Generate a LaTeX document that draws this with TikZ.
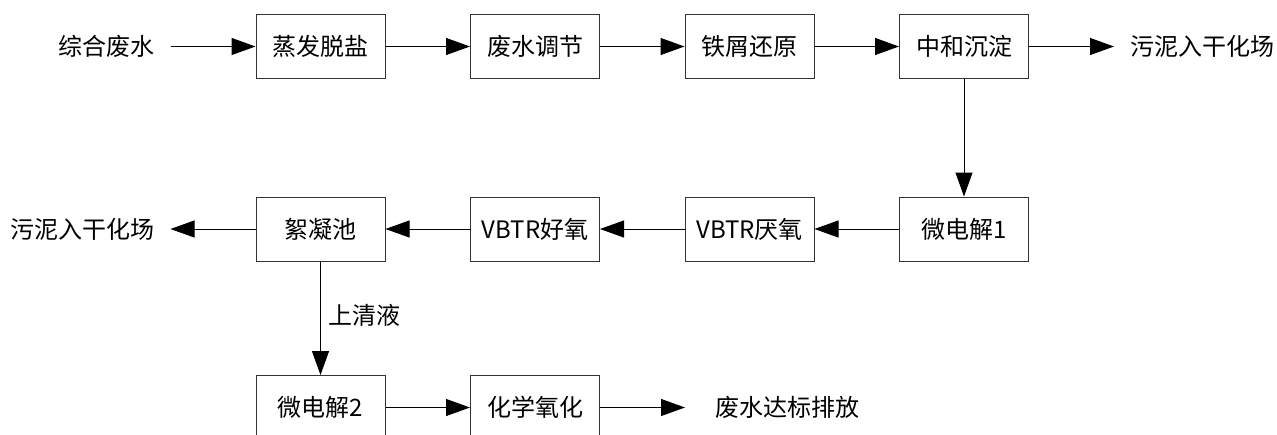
\documentclass[tikz,border=0pt]{standalone}
\usepackage{fontspec}
\setmainfont{Noto Sans CJK SC}
\usetikzlibrary{positioning,arrows.meta}
\tikzset{%
  every stage/.style={
    rectangle,
    draw=black!80,
    minimum width=129pt,
    minimum height=64pt
  },
  flow label/.style={
    inner xsep=16pt
  },
}

\begin{document}
\begin{tikzpicture}[x=1pt, y=-1pt, line width=1pt,
  >={Triangle[length=24pt,width=17pt]},
  font=\fontsize{24}{28}\selectfont]

\useasboundingbox (0,0) rectangle (1277,434);

\foreach \t [count=\i] in {蒸发脱盐,废水调节,铁屑还原,中和沉淀}
  \node [every stage] (top-\i) at (106+214.5*\i, 46.5) {\t};

\foreach \t [count=\i] in {絮凝池,VBTR好氧,VBTR厌氧,微电解1}
  \node [every stage] (mid-\i) at (106+214.5*\i, 229) {\t};

\foreach \t [count=\i] in {微电解2,化学氧化}
  \node [every stage] (low-\i) at (106+214.5*\i, 407.5) {\t};

\node [flow label, left=85pt of top-1] (feed) {综合废水};
\node [flow label, right=85pt of top-4] (sludge-top) {污泥入干化场};
\node [flow label, left=85pt of mid-1] (sludge-mid) {污泥入干化场};
\node [flow label, inner xsep=30pt, right=85pt of low-2] (outlet) {废水达标排放};

\draw [->] (feed) -- (top-1);
\foreach \i/\j in {1/2,2/3,3/4}
  \draw [->] (top-\i) -- (top-\j);
\draw [->] (top-4) -- (sludge-top);
\draw [->] (top-4) -- (mid-4);

\foreach \i/\j in {4/3,3/2,2/1}
  \draw [->] (mid-\i) -- (mid-\j);
\draw [->] (mid-1) -- (sludge-mid);
\draw [->] (mid-1) -- (low-1)
  node [right=4pt, midway, yshift=3pt] {上清液};

\draw [->] (low-1) -- (low-2);
\draw [->] (low-2) -- (outlet);

\end{tikzpicture}
\end{document}
